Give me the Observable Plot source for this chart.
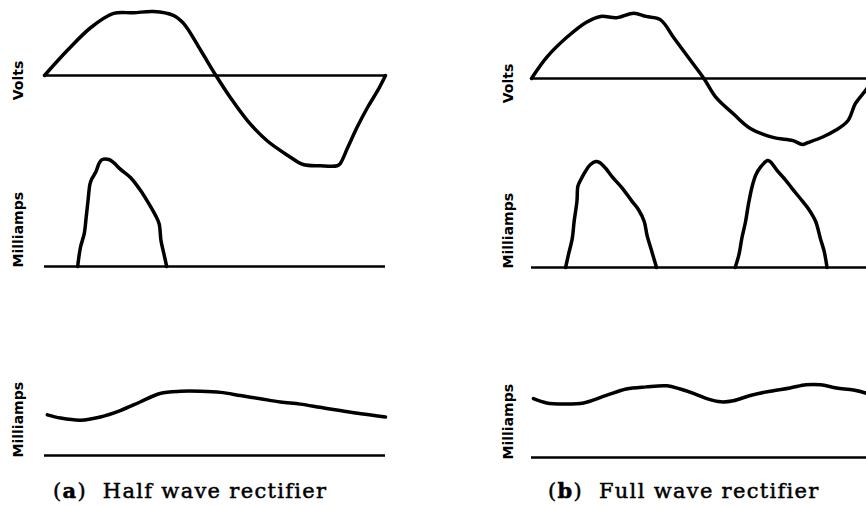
<!DOCTYPE html>
<html><head><meta charset="utf-8">
<script src="https://cdn.jsdelivr.net/npm/d3@7"></script>
<script src="https://cdn.jsdelivr.net/npm/@observablehq/plot@0.6"></script>
<style>
html,body{margin:0;padding:0;background:#fff;overflow:hidden}
#fig{position:relative;width:866px;height:506px;overflow:hidden;background:#fff}
.cell{position:absolute}
.cell svg{display:block;max-width:none !important}
.cap{position:absolute;font-family:"DejaVu Serif",serif;font-size:21px;letter-spacing:1.3px;word-spacing:0;color:#000;white-space:pre;line-height:1;-webkit-text-stroke:0.5px #000}
</style></head><body><div id="fig"></div>
<script>
// ---- data (phase in degrees over one mains cycle) ----
// (a) Half wave rectifier
const halfVoltsDeg = [0,24,49,73,94,115,136,147,165,181,196,214,235,257,273,291,309,312,320,330,341,352,360];
const halfVolts    = [0,39,75,97,98,100,94,81,39,0,-34,-70,-102,-125,-139,-141,-141,-138,-113,-81,-50,-23,0];
const halfPulseDeg = [35,38,42,44,46,48,50,54,58,61,68,73,80,91,103,110,117,121,123,126,129];
const halfPulse    = [0,18,31,46,62,77,82,88,97,100,100,97,91,83,69,59,48,40,24,12,0];
const halfDcDeg    = [3,17,38,59,80,101,122,144,165,186,207,228,249,270,291,312,334,360];
const halfDc       = [38,35,33,36,42,50,58,60,60,59,56,53,50,48,45,42,39,36];
// (b) Full wave rectifier
const fullVoltsDeg = [0,16,37,58,73,90,108,121,136,150,168,182,195,213,231,255,276,286,292,308,321,334,342,354,360];
const fullVolts    = [0,33,64,88,97,95,102,97,92,64,28,0,-30,-55,-78,-92,-97,-103,-100,-91,-81,-66,-39,-16,0];
const fullPulse1Deg = [36,39,43,45,48,49,52,57,62,68,72,78,85,96,106,113,119,122,127,132];
const fullPulse1    = [0,12,27,43,62,76,82,90,96,99,98,93,85,74,62,54,43,30,15,0];
const fullPulse2Deg = [215,219,222,226,229,233,237,242,249,252,259,268,275,286,293,300,305,309,312];
const fullPulse2    = [0,12,27,43,59,76,87,94,100,99,91,82,74,62,54,43,27,15,0];
const fullDcDeg    = [2,16,34,55,79,100,121,143,157,171,185,200,213,231,252,273,290,305,322,340,354,360];
const fullDc       = [55,51,50,51,58,64,66,67,64,60,55,52,53,58,62,65,68,68,65,63,60,58];

const rowLabels = ["Volts", "Milliamps", "Milliamps"];
const captions = [["a", "Half wave rectifier"], ["b", "Full wave rectifier"]];

const toRows = (xs, ys) => xs.map((x, i) => ({x, y: ys[i]}));

const fig = document.getElementById("fig");

function cell({left, top, width, height, marginLeft, marginRight, marginTop, marginBottom, yDomain, series, label, labelMode, labelDx, labelDy}) {
  const marks = [
    Plot.ruleY([0], {stroke: "#000", strokeWidth: 2.6}),
    ...series.map(s => Plot.line(s, {x: "x", y: "y", curve: "catmull-rom", stroke: "#000", strokeWidth: 3.5, strokeLinejoin: "round", strokeLinecap: "round"})),
    Plot.text([label], {
      y: () => 0, text: d => d, frameAnchor: "left", rotate: -90,
      textAnchor: labelMode, dx: labelDx, dy: labelDy,
      fontSize: 14, fontWeight: "bold", fontFamily: "DejaVu Sans", fill: "#000"
    })
  ];
  const svg = Plot.plot({
    width, height, marginLeft, marginRight, marginTop, marginBottom,
    x: {domain: [0, 360], axis: null},
    y: {domain: yDomain, axis: null},
    style: {background: "transparent", overflow: "visible", maxWidth: "none"},
    marks
  });
  const d = document.createElement("div");
  d.className = "cell";
  d.style.left = left + "px";
  d.style.top = top + "px";
  d.style.width = width + "px";
  d.appendChild(svg);
  fig.appendChild(d);
}

const colL = {left: 0, width: 433, marginLeft: 44, marginRight: 48, labelDx: -26};
const colR = {left: 433, width: 460, marginLeft: 98, marginRight: 21, labelDx: -23};

// Volts rows (0.64 px per unit)
const voltRow = {height: 180, marginTop: 4.6, marginBottom: 9, yDomain: [-150, 110], label: rowLabels[0], labelMode: "middle", labelDy: 5};
cell({...colL, ...voltRow, top: 0, series: [toRows(halfVoltsDeg, halfVolts)]});
cell({...colR, ...voltRow, top: 3, series: [toRows(fullVoltsDeg, fullVolts)]});

// Pulse rows (1.07 px per unit)
const pulseRow = {height: 130, marginTop: 9, marginBottom: 14, yDomain: [0, 100], label: rowLabels[1], labelMode: "start", labelDy: 1};
cell({...colL, ...pulseRow, top: 150, series: [toRows(halfPulseDeg, halfPulse)]});
cell({...colR, ...pulseRow, top: 151, series: [toRows(fullPulse1Deg, fullPulse1), toRows(fullPulse2Deg, fullPulse2)]});

// Smoothed DC rows
const dcRow = {height: 100, marginTop: 10.1, marginBottom: 15, yDomain: [0, 70], label: rowLabels[2], labelMode: "start", labelDy: 2};
cell({...colL, ...dcRow, top: 370, series: [toRows(halfDcDeg, halfDc)]});
cell({...colR, ...dcRow, top: 372, series: [toRows(fullDcDeg, fullDc)]});

// Captions
const capPos = [{left: 53, top: 480}, {left: 548, top: 480}];
captions.forEach(([letter, text], i) => {
  const c = document.createElement("div");
  c.className = "cap";
  c.style.left = capPos[i].left + "px";
  c.style.top = capPos[i].top + "px";
  const b = document.createElement("b");
  b.textContent = letter;
  c.append("(", b, ")\u00a0 " + text);
  fig.appendChild(c);
});
</script>
</body></html>
